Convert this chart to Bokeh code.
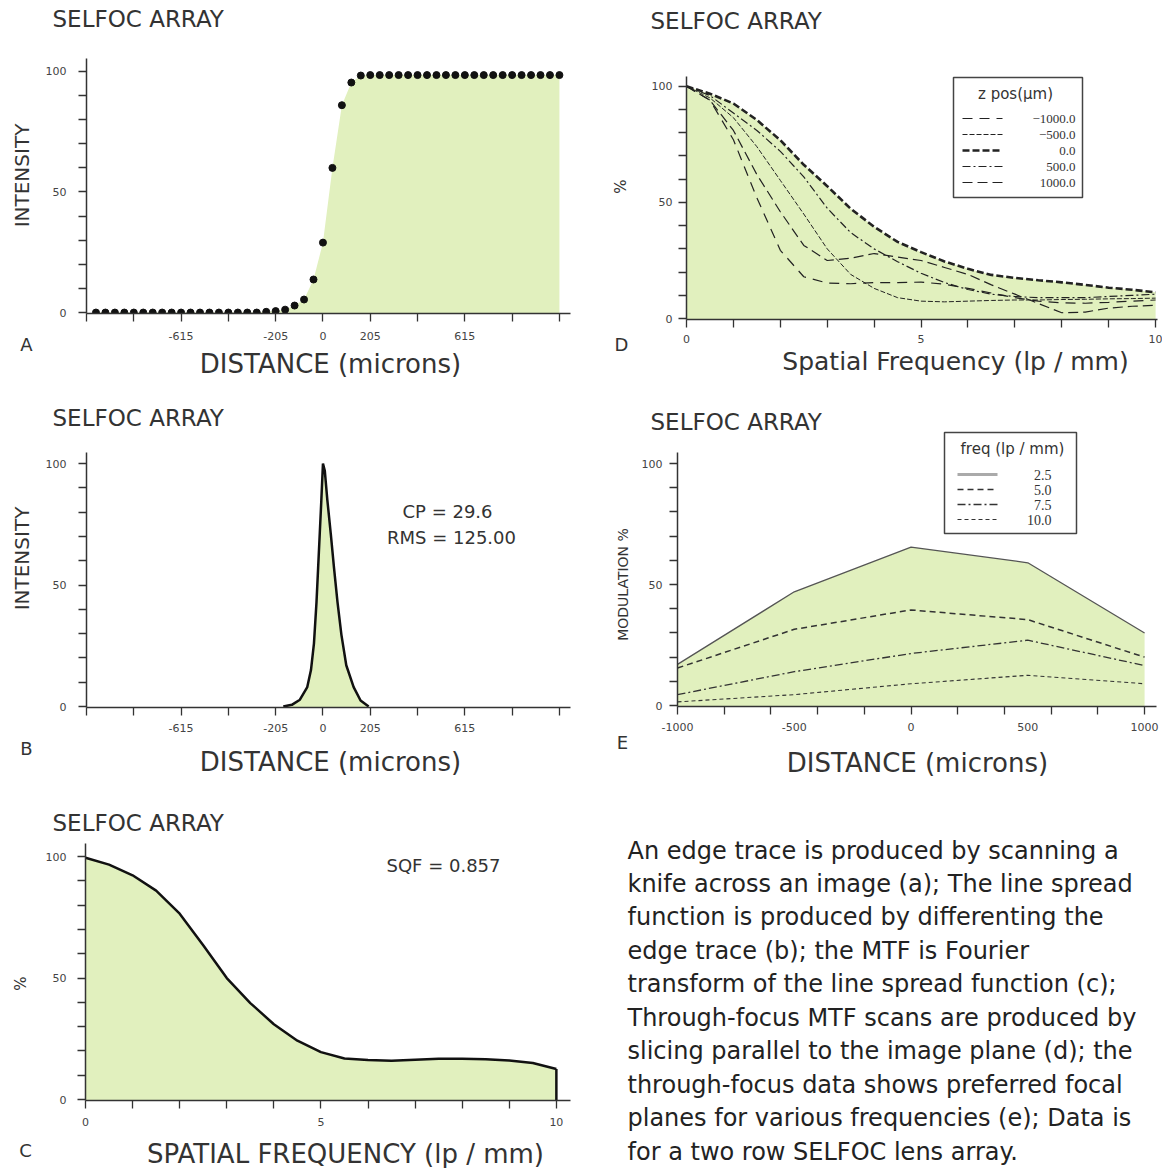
import math
from bokeh.plotting import figure
from bokeh.models import Range1d, FixedTicker, Label, GridBox
from bokeh.embed import file_html
from bokeh.resources import INLINE

# ---------------- data ----------------
# A: edge trace (distance in microns vs intensity)
edge_x = [-984, -943, -902, -861, -820, -779, -738, -697, -656, -615,
          -574, -533, -492, -451, -410, -369, -328, -287, -246, -205,
          -164, -123, -82, -41, 0, 41, 82, 123, 164, 205,
          246, 287, 328, 369, 410, 451, 492, 533, 574, 615,
          656, 697, 738, 779, 820, 861, 902, 943, 984, 1025]
edge_y = [0, 0, 0, 0, 0, 0, 0, 0, 0, 0,
          0, 0, 0, 0, 0, 0, 0, 0, 0.3, 0.6,
          1.2, 2.9, 5.4, 13.7, 29, 60, 86, 95.4, 98.3, 98.5,
          98.5, 98.5, 98.5, 98.5, 98.5, 98.5, 98.5, 98.5, 98.5, 98.5,
          98.5, 98.5, 98.5, 98.5, 98.5, 98.5, 98.5, 98.5, 98.5, 98.5]

# B: line spread function
lsf_x = [-172, -135, -100, -68, -52, -39, -28, -21, -14, -7, 0,
         8, 19, 34, 48, 63, 80, 101, 133, 163, 198]
lsf_y = [0, 0.7, 2.8, 8, 15, 26, 43, 57, 71, 85, 100,
         97, 85, 71, 57, 43, 29.5, 17, 8, 2.5, 0]

# C: MTF (spatial frequency lp/mm vs %)
mtf_x = [0, 0.5, 1, 1.5, 2, 2.5, 3, 3.5, 4, 4.5, 5,
         5.5, 6, 6.5, 7, 7.5, 8, 8.5, 9, 9.5, 10]
mtf_y = [99.5, 96.7, 92.3, 86, 76.5, 63.5, 50, 39.7, 31, 24.2, 19.5,
         16.9, 16.3, 16.0, 16.4, 16.8, 16.8, 16.6, 16.1, 15, 12.6]

# D: through-focus MTF curves (z position in microns)
freq_x = [0, 0.5, 1, 1.5, 2, 2.5, 3, 3.5, 4, 4.5, 5,
          5.5, 6, 6.5, 7, 7.5, 8, 8.5, 9, 9.5, 10]
zpos_labels = ["\u22121000.0", "\u2212500.0", "0.0", "500.0", "1000.0"]
mtf_zm1000 = [100, 94, 77, 52, 29.4, 18, 15.3, 15, 15.5, 15.5, 15.7,
              14.8, 13, 11, 9, 7.5, 6.8, 6.6, 7, 7.5, 8]
mtf_zm500 = [100, 95, 86.5, 74, 59.5, 45, 30, 19, 13, 9, 7.5,
             7.2, 7.5, 7.8, 8, 8, 8.2, 8.3, 8.5, 8.6, 8.8]
mtf_z0 = [100, 96.8, 92.6, 85.5, 76.8, 66.2, 57, 47.3, 39.5, 33, 28.6,
          24.6, 21.4, 18.8, 17.5, 16.5, 15.6, 14.5, 13.3, 12.4, 11.3]
mtf_z500 = [100, 96, 88.5, 81, 72, 61, 47.5, 37, 30, 24.5, 19.5,
            15.5, 12.5, 10.5, 9.5, 9, 9, 9, 9.5, 10, 10.5]
mtf_z1000 = [100, 94, 81, 62, 46, 31.5, 25, 26, 28, 26.5, 25,
             22, 19, 14.5, 10.5, 6.5, 2.5, 2.8, 4.5, 5.3, 5.7]

# E: modulation vs focus distance for several frequencies
focus_x = [-1000, -500, 0, 500, 1000]
freq_labels = ["2.5", "5.0", "7.5", "10.0"]
mod_f25 = [17, 47, 65.5, 59, 30]
mod_f50 = [15.5, 31.5, 39.5, 35.5, 20]
mod_f75 = [4.5, 14, 21.5, 27, 16.5]
mod_f100 = [1.5, 4.5, 9, 12.5, 9]

# tick definitions
dist_ticks = [-1025, -820, -615, -410, -205, 0, 205, 410, 615, 820, 1025]
dist_major = [-615, -205, 0, 205, 615]
dist_major_labels = ["-615", "-205", "0", "205", "615"]
pct_ticks = [0, 10, 20, 30, 40, 50, 60, 70, 80, 90, 100]
pct_major = [0, 50, 100]
pct_major_labels = ["0", "50", "100"]
freq_ticks = [0, 1, 2, 3, 4, 5, 6, 7, 8, 9, 10]
freq_major = [0, 5, 10]
freq_major_labels = ["0", "5", "10"]
focus_ticks = [-1000, -800, -600, -400, -200, 0, 200, 400, 600, 800, 1000]
focus_major = [-1000, -500, 0, 500, 1000]
focus_major_labels = ["-1000", "-500", "0", "500", "1000"]

paragraph = [
    "An edge trace is produced by scanning a",
    "knife across an image (a); The line spread",
    "function is produced by differenting the",
    "edge trace (b); the MTF is Fourier",
    "transform of the line spread function (c);",
    "Through-focus MTF scans are produced by",
    "slicing parallel to the image plane (d);  the",
    "through-focus data shows preferred focal",
    "planes for various frequencies (e); Data is",
    "for a two row SELFOC lens array.",
]

# ---------------- styling ----------------
FONT = "DejaVu Sans"
SERIF = "Liberation Serif"
INK = "#333333"
GREEN = "#e1f0be"
Y0 = -0.4
PAGE_W, PAGE_H = 1162, 1168

# text layer: a transparent figure spanning the page, in page-pixel coordinates
overlay = figure(width=PAGE_W, height=PAGE_H, output_backend="svg",
                 toolbar_location=None, title=None,
                 x_range=Range1d(0, PAGE_W), y_range=Range1d(PAGE_H, 0),
                 x_axis_location=None, y_axis_location=None,
                 min_border_left=0, min_border_right=0, min_border_top=0,
                 min_border_bottom=0, background_fill_color=None,
                 border_fill_color=None, outline_line_color=None)
overlay.grid.visible = False
overlay.frame_align = False


def txt(px, py, s, size, font=FONT, align="center", baseline="middle",
        angle=0.0, color=INK):
    overlay.add_layout(Label(x=px, y=py, text=s, text_font=font,
                             text_font_size=f"{size}px", text_align=align,
                             text_baseline=baseline, angle=angle,
                             text_color=color))


class Panel:
    """A figure placed at a known page position; frame given in page pixels."""

    def __init__(self, origin, size, frame, xr, yr):
        self.ox, self.oy = origin
        self.w, self.h = size
        self.L, self.T, self.R, self.B = frame
        self.xr, self.yr = xr, yr
        self.fig = figure(width=self.w, height=self.h, output_backend="svg",
                          toolbar_location=None, title=None,
                          x_range=Range1d(*xr), y_range=Range1d(*yr),
                          min_border_left=self.L - self.ox,
                          min_border_right=self.ox + self.w - self.R,
                          min_border_top=self.T - self.oy,
                          min_border_bottom=self.oy + self.h - self.B)
        f = self.fig
        f.frame_align = False
        f.outline_line_color = None
        f.grid.visible = False

    def data(self, px, py):
        x0, x1 = self.xr
        y0, y1 = self.yr
        return (x0 + (px - self.L) / (self.R - self.L) * (x1 - x0),
                y0 + (self.B - py) / (self.B - self.T) * (y1 - y0))

    def axes(self, xmaj, xlab, xmin, ymaj, ylab, ymin, xb, yb, xst, yst):
        f = self.fig
        f.xaxis.ticker = FixedTicker(ticks=xmaj, minor_ticks=xmin)
        f.yaxis.ticker = FixedTicker(ticks=ymaj, minor_ticks=ymin)
        f.xaxis.major_label_overrides = dict(zip(xmaj, xlab))
        f.yaxis.major_label_overrides = dict(zip(ymaj, ylab))
        f.xaxis.bounds = xb
        f.yaxis.bounds = yb
        for ax in (f.xaxis, f.yaxis):
            ax.axis_line_color = INK
            ax.axis_line_width = 1.5
            ax.major_tick_line_color = None
            ax.major_tick_in = 0
            ax.major_tick_out = 8
            ax.minor_tick_line_color = INK
            ax.minor_tick_line_width = 1.3
            ax.minor_tick_in = 0
            ax.minor_tick_out = 8
            ax.major_label_text_font = FONT
            ax.major_label_text_font_size = "11px"
            ax.major_label_text_color = "#444444"
        f.xaxis.major_label_standoff = xst
        f.yaxis.major_label_standoff = yst


# ---------------- Panel A ----------------
A = Panel((0, 0), (590, 398), (86, 56, 570, 313), (-1025, 1073), (Y0, 106.2))
A.axes(dist_major, dist_major_labels, dist_ticks, pct_major, pct_major_labels,
       pct_ticks, (-1025, 1073), (Y0, 105.5), 10, 12)
A.fig.varea(x=edge_x, y1=Y0, y2=edge_y, fill_color=GREEN)
A.fig.scatter(edge_x, edge_y, size=7, color="#111111")
txt(52, 18, "SELFOC ARRAY", 23, align="left")
txt(21, 175, "INTENSITY", 20, angle=math.pi / 2)
txt(330, 363, "DISTANCE (microns)", 26)
txt(26, 344, "A", 18)

# ---------------- Panel B ----------------
B = Panel((0, 398), (590, 392), (86, 450, 570, 707), (-1025, 1073), (Y0, 105.4))
B.axes(dist_major, dist_major_labels, dist_ticks, pct_major, pct_major_labels,
       pct_ticks, (-1025, 1073), (Y0, 104.5), 8, 12)
B.fig.varea(x=lsf_x, y1=Y0, y2=lsf_y, fill_color=GREEN)
B.fig.line(lsf_x, lsf_y, line_color="#111111", line_width=2.5)
txt(52, 417, "SELFOC ARRAY", 23, align="left")
txt(21, 558, "INTENSITY", 20, angle=math.pi / 2)
txt(330, 761, "DISTANCE (microns)", 26)
txt(26, 748, "B", 18)
txt(447, 511, "CP = 29.6", 18)
txt(451, 537, "RMS = 125.00", 18)

# ---------------- Panel C ----------------
C = Panel((0, 790), (590, 378), (85, 841, 570, 1100), (0, 10.3), (Y0, 106.2))
C.axes(freq_major, freq_major_labels, freq_ticks, pct_major, pct_major_labels,
       pct_ticks, (0, 10.3), (Y0, 105.5), 9, 11)
C.fig.varea(x=mtf_x, y1=Y0, y2=mtf_y, fill_color=GREEN)
C.fig.line(mtf_x, mtf_y, line_color="#111111", line_width=2.5)
C.fig.segment(x0=[mtf_x[-1]], y0=[Y0], x1=[mtf_x[-1]], y1=[mtf_y[-1]],
              line_color="#111111", line_width=2.5)
txt(52, 822, "SELFOC ARRAY", 23, align="left")
txt(20, 983, "%", 15, angle=math.pi / 2)
txt(345, 1153, "SPATIAL FREQUENCY (lp / mm)", 26)
txt(25, 1150, "C", 18)
txt(443, 865, "SQF = 0.857", 18)

# ---------------- Panel D ----------------
D = Panel((590, 0), (572, 398), (686, 70, 1157, 319), (0, 10.04), (Y0, 106.8))
D.axes(freq_major, freq_major_labels, freq_ticks, pct_major, pct_major_labels,
       pct_ticks, (0, 10.04), (Y0, 104.3), 7, 6)
D.fig.varea(x=freq_x, y1=Y0, y2=mtf_z0, fill_color=GREEN)
d_series = [mtf_zm1000, mtf_zm500, mtf_z0, mtf_z500, mtf_z1000]
d_styles = [dict(line_dash="10 7", line_width=1.2),
            dict(line_dash="5 2", line_width=1.0),
            dict(line_dash="7 3", line_width=2.6),
            dict(line_dash="8 3 2 3", line_width=1.2),
            dict(line_dash="10 5", line_width=1.2)]
for ys, st in zip(d_series, d_styles):
    D.fig.line(freq_x, ys, line_color="#222222", **st)
bl, bt = D.data(953, 77)
br, bb = D.data(1082, 197)
D.fig.quad(left=[bl], right=[br], top=[bt], bottom=[bb], fill_color="white",
           line_color="#444444", line_width=1.5)
txt(1015, 93, "z pos(\u03bcm)", 15)
for i, (lab, st) in enumerate(zip(zpos_labels, d_styles)):
    yy = 118 + 16 * i
    xa, ya = D.data(962, yy)
    xb, _ = D.data(1002, yy)
    D.fig.line([xa, xb], [ya, ya], line_color="#222222", **st)
    txt(1075, yy, lab, 13, font=SERIF, align="right")
txt(650, 20, "SELFOC ARRAY", 23, align="left")
txt(620, 186, "%", 15, angle=math.pi / 2)
txt(955, 361, "Spatial Frequency (lp / mm)", 25)
txt(621, 344, "D", 18)

# ---------------- Panel E ----------------
E = Panel((590, 398), (572, 392), (677, 428, 1156, 706), (-1000, 1051), (Y0, 114.5))
E.axes(focus_major, focus_major_labels, focus_ticks, pct_major, pct_major_labels,
       pct_ticks, (-1000, 1051), (Y0, 104.6), 8, 7)
E.fig.varea(x=focus_x, y1=Y0, y2=mod_f25, fill_color=GREEN)
e_series = [mod_f25, mod_f50, mod_f75, mod_f100]
e_styles = [dict(line_dash="solid", line_width=1.3, line_color="#555555"),
            dict(line_dash="6 4", line_width=1.5, line_color="#333333"),
            dict(line_dash="8 3 2 3", line_width=1.3, line_color="#333333"),
            dict(line_dash="4 3", line_width=1.1, line_color="#333333")]
e_legend_styles = [dict(line_dash="solid", line_width=3, line_color="#aaaaaa"),
                   dict(line_dash="6 4", line_width=1.5, line_color="#333333"),
                   dict(line_dash="8 3 2 3", line_width=1.5, line_color="#333333"),
                   dict(line_dash="4 3", line_width=1.1, line_color="#333333")]
for ys, st in zip(e_series, e_styles):
    E.fig.line(focus_x, ys, **st)
bl, bt = E.data(944, 432)
br, bb = E.data(1076, 533)
E.fig.quad(left=[bl], right=[br], top=[bt], bottom=[bb], fill_color="white",
           line_color="#444444", line_width=1.5)
txt(1012, 448, "freq (lp / mm)", 15)
for i, (lab, st) in enumerate(zip(freq_labels, e_legend_styles)):
    yy = 474 + 15 * i
    xa, ya = E.data(957, yy)
    xb, _ = E.data(997, yy)
    E.fig.line([xa, xb], [ya, ya], **st)
    txt(1051, yy, lab, 14, font=SERIF, align="right")
txt(650, 421, "SELFOC ARRAY", 23, align="left")
txt(622, 584, "MODULATION %", 14, angle=math.pi / 2)
txt(917, 762, "DISTANCE (microns)", 26)
txt(622, 742, "E", 18)

# ---------------- paragraph ----------------
for i, line in enumerate(paragraph):
    txt(627, 850 + 33.45 * i, line, 24, align="left", color="#222222")

grid = GridBox(children=[(A.fig, 0, 0), (D.fig, 0, 1),
                         (B.fig, 1, 0), (E.fig, 1, 1),
                         (C.fig, 2, 0),
                         (overlay, 0, 0, 3, 2)])
open("out.html", "w").write(file_html(grid, INLINE))
